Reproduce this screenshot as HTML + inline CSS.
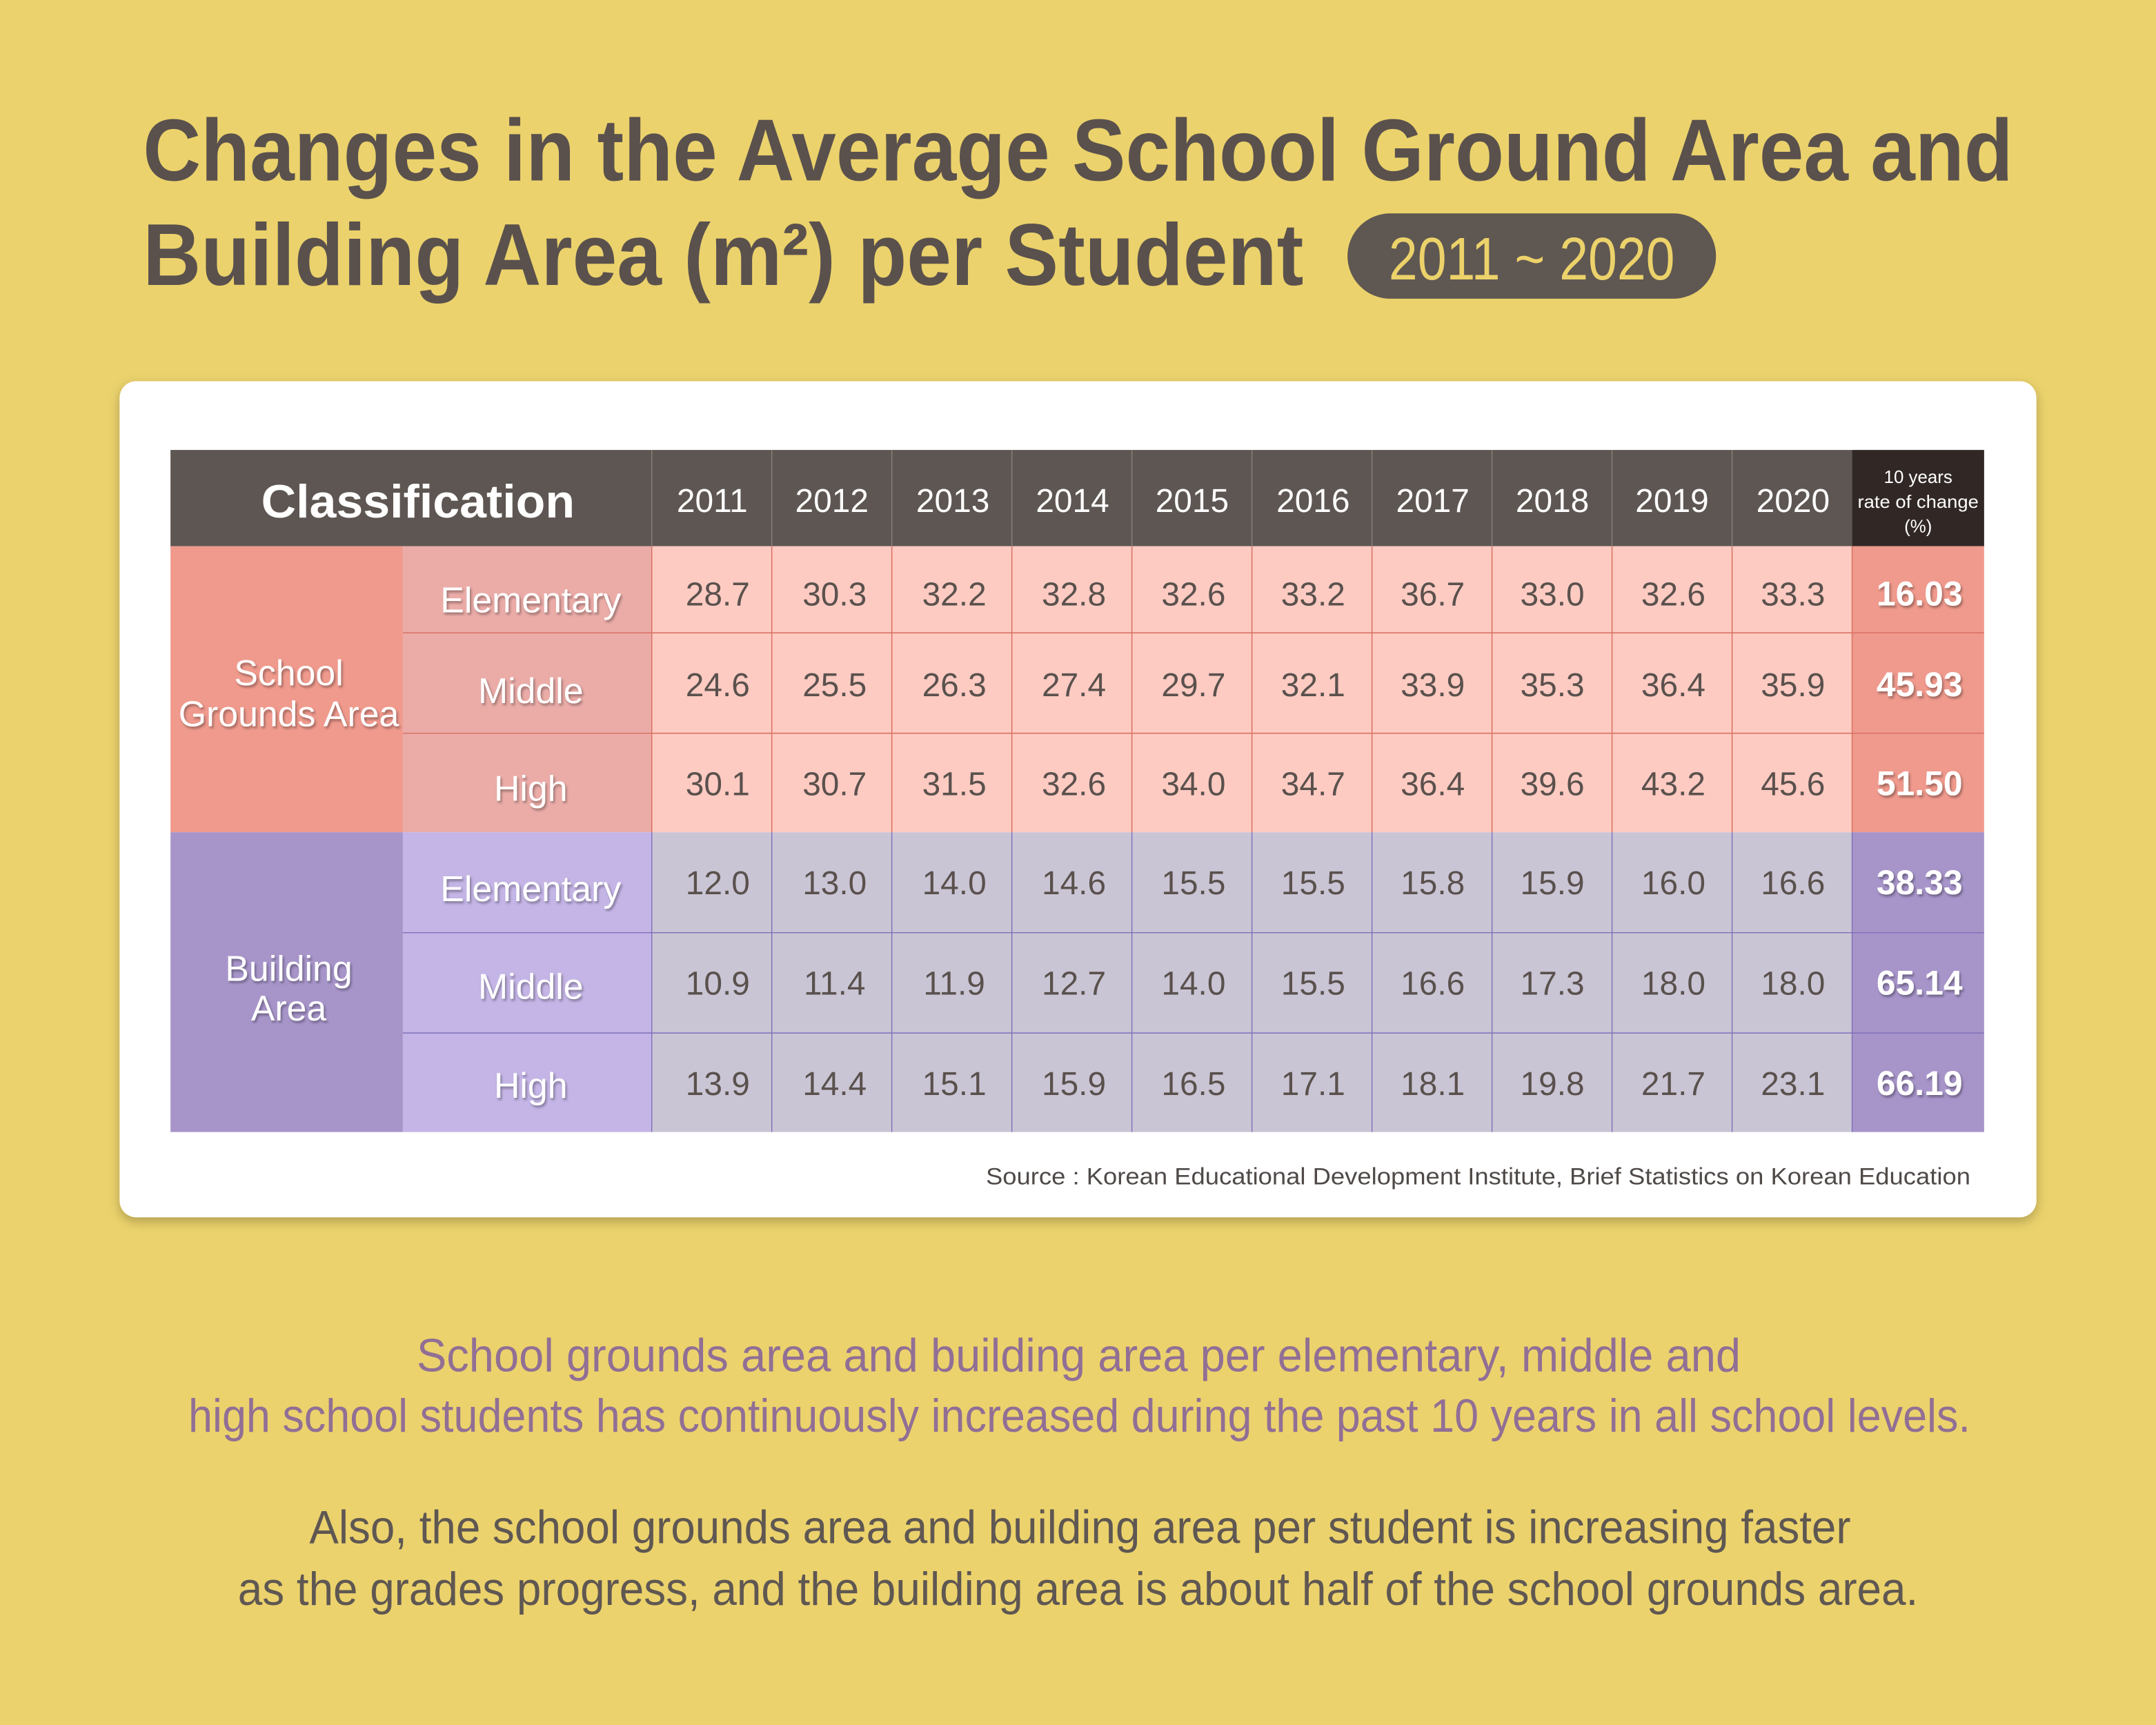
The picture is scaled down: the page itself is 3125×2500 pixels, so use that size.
<!DOCTYPE html>
<html><head><meta charset="utf-8"><style>
html,body{margin:0;padding:0;background:#ebd26c;}
svg{display:block}
</style></head><body>
<svg width="3125" height="2500" viewBox="0 0 1568 1254" xmlns="http://www.w3.org/2000/svg" font-family="'Liberation Sans Narrow','Liberation Sans',sans-serif">
<defs>
<filter id="sh" x="-5%" y="-5%" width="110%" height="115%"><feDropShadow dx="0" dy="3" stdDeviation="4" flood-color="#000" flood-opacity="0.25"/></filter>
<filter id="ts" x="-10%" y="-20%" width="120%" height="150%"><feDropShadow dx="1" dy="1.5" stdDeviation="1" flood-color="#000" flood-opacity="0.35"/></filter>
</defs>
<rect width="1568" height="1254" fill="#ebd26c"/>
<g fill="#5a514d" font-family="'Liberation Sans',sans-serif" font-weight="bold" font-size="64">
<text x="104" y="131" textLength="1360" lengthAdjust="spacingAndGlyphs">Changes in the Average School Ground Area and</text>
<text x="104" y="207" textLength="844" lengthAdjust="spacingAndGlyphs">Building Area (m²) per Student</text>
</g>
<rect x="980" y="155" width="268" height="62" rx="31" fill="#5f5752"/>
<text x="1010" y="203" font-size="44" fill="#ecd26a" textLength="208" lengthAdjust="spacingAndGlyphs">2011 ~ 2020</text>
<rect x="87" y="277" width="1394" height="608" rx="12" fill="#fff" filter="url(#sh)"/>
<!-- header -->
<rect x="124" y="327" width="1223" height="70" fill="#5e5652"/>
<rect x="1347" y="327" width="96" height="70" fill="#312826"/>
<text x="304" y="376" font-family="'Liberation Sans',sans-serif" font-weight="bold" font-size="34" fill="#fff" text-anchor="middle" textLength="228" lengthAdjust="spacingAndGlyphs">Classification</text>
<g font-family="'Liberation Sans',sans-serif" font-size="24" fill="#fff" text-anchor="middle">
<text x="518" y="372">2011</text><text x="605" y="372">2012</text><text x="693" y="372">2013</text><text x="780" y="372">2014</text><text x="867" y="372">2015</text><text x="955" y="372">2016</text><text x="1042" y="372">2017</text><text x="1129" y="372">2018</text><text x="1216" y="372">2019</text><text x="1304" y="372">2020</text>
</g>
<g font-family="'Liberation Sans',sans-serif" font-size="13" fill="#fff" text-anchor="middle">
<text x="1395" y="351">10 years</text><text x="1395" y="369" textLength="88" lengthAdjust="spacingAndGlyphs">rate of change</text><text x="1395" y="387">(%)</text>
</g>
<g stroke="#8a807b" stroke-width="0.7">
<line x1="474" y1="327" x2="474" y2="397"/><line x1="561.3" y1="327" x2="561.3" y2="397"/><line x1="648.6" y1="327" x2="648.6" y2="397"/><line x1="735.9" y1="327" x2="735.9" y2="397"/><line x1="823.2" y1="327" x2="823.2" y2="397"/><line x1="910.5" y1="327" x2="910.5" y2="397"/><line x1="997.8" y1="327" x2="997.8" y2="397"/><line x1="1085.1" y1="327" x2="1085.1" y2="397"/><line x1="1172.4" y1="327" x2="1172.4" y2="397"/><line x1="1259.7" y1="327" x2="1259.7" y2="397"/>
</g>
<!-- pink block -->
<rect x="124" y="397" width="169" height="208" fill="#f09a8d"/>
<rect x="293" y="397" width="181" height="208" fill="#ebaca8"/>
<rect x="474" y="397" width="873" height="208" fill="#fecbc2"/>
<rect x="1347" y="397" width="96" height="208" fill="#f09a8d"/>
<!-- purple block -->
<rect x="124" y="605" width="169" height="218" fill="#a795ca"/>
<rect x="293" y="605" width="181" height="218" fill="#c4b5e6"/>
<rect x="474" y="605" width="873" height="218" fill="#cac5d5"/>
<rect x="1347" y="605" width="96" height="218" fill="#a795ca"/>
<g stroke="#d97466" stroke-width="0.8">
<line x1="293" y1="460" x2="1443" y2="460"/><line x1="293" y1="533" x2="1443" y2="533"/>
<line x1="474" y1="397" x2="474" y2="605"/><line x1="561.3" y1="397" x2="561.3" y2="605"/><line x1="648.6" y1="397" x2="648.6" y2="605"/><line x1="735.9" y1="397" x2="735.9" y2="605"/><line x1="823.2" y1="397" x2="823.2" y2="605"/><line x1="910.5" y1="397" x2="910.5" y2="605"/><line x1="997.8" y1="397" x2="997.8" y2="605"/><line x1="1085.1" y1="397" x2="1085.1" y2="605"/><line x1="1172.4" y1="397" x2="1172.4" y2="605"/><line x1="1259.7" y1="397" x2="1259.7" y2="605"/><line x1="1347" y1="397" x2="1347" y2="605"/>
</g>
<g stroke="#7e6fb8" stroke-width="0.7">
<line x1="293" y1="678" x2="1443" y2="678"/><line x1="293" y1="751" x2="1443" y2="751"/>
<line x1="474" y1="605" x2="474" y2="823"/><line x1="561.3" y1="605" x2="561.3" y2="823"/><line x1="648.6" y1="605" x2="648.6" y2="823"/><line x1="735.9" y1="605" x2="735.9" y2="823"/><line x1="823.2" y1="605" x2="823.2" y2="823"/><line x1="910.5" y1="605" x2="910.5" y2="823"/><line x1="997.8" y1="605" x2="997.8" y2="823"/><line x1="1085.1" y1="605" x2="1085.1" y2="823"/><line x1="1172.4" y1="605" x2="1172.4" y2="823"/><line x1="1259.7" y1="605" x2="1259.7" y2="823"/><line x1="1347" y1="605" x2="1347" y2="823"/>
</g>
<!-- labels -->
<g fill="#fff" font-size="26" text-anchor="middle" filter="url(#ts)">
<text x="210" y="498">School</text>
<text x="210" y="528">Grounds Area</text>
<text x="210" y="713">Building</text>
<text x="210" y="742">Area</text>
<text x="386" y="445">Elementary</text>
<text x="386" y="511">Middle</text>
<text x="386" y="582">High</text>
<text x="386" y="655">Elementary</text>
<text x="386" y="726">Middle</text>
<text x="386" y="798">High</text>
</g>
<g fill="#5a514d" font-family="'Liberation Sans',sans-serif" font-size="24" text-anchor="middle">
<text y="440"><tspan x="522">28.7</tspan><tspan x="607">30.3</tspan><tspan x="694">32.2</tspan><tspan x="781">32.8</tspan><tspan x="868">32.6</tspan><tspan x="955">33.2</tspan><tspan x="1042">36.7</tspan><tspan x="1129">33.0</tspan><tspan x="1217">32.6</tspan><tspan x="1304">33.3</tspan></text>
<text y="506"><tspan x="522">24.6</tspan><tspan x="607">25.5</tspan><tspan x="694">26.3</tspan><tspan x="781">27.4</tspan><tspan x="868">29.7</tspan><tspan x="955">32.1</tspan><tspan x="1042">33.9</tspan><tspan x="1129">35.3</tspan><tspan x="1217">36.4</tspan><tspan x="1304">35.9</tspan></text>
<text y="578"><tspan x="522">30.1</tspan><tspan x="607">30.7</tspan><tspan x="694">31.5</tspan><tspan x="781">32.6</tspan><tspan x="868">34.0</tspan><tspan x="955">34.7</tspan><tspan x="1042">36.4</tspan><tspan x="1129">39.6</tspan><tspan x="1217">43.2</tspan><tspan x="1304">45.6</tspan></text>
<text y="650"><tspan x="522">12.0</tspan><tspan x="607">13.0</tspan><tspan x="694">14.0</tspan><tspan x="781">14.6</tspan><tspan x="868">15.5</tspan><tspan x="955">15.5</tspan><tspan x="1042">15.8</tspan><tspan x="1129">15.9</tspan><tspan x="1217">16.0</tspan><tspan x="1304">16.6</tspan></text>
<text y="723"><tspan x="522">10.9</tspan><tspan x="607">11.4</tspan><tspan x="694">11.9</tspan><tspan x="781">12.7</tspan><tspan x="868">14.0</tspan><tspan x="955">15.5</tspan><tspan x="1042">16.6</tspan><tspan x="1129">17.3</tspan><tspan x="1217">18.0</tspan><tspan x="1304">18.0</tspan></text>
<text y="796"><tspan x="522">13.9</tspan><tspan x="607">14.4</tspan><tspan x="694">15.1</tspan><tspan x="781">15.9</tspan><tspan x="868">16.5</tspan><tspan x="955">17.1</tspan><tspan x="1042">18.1</tspan><tspan x="1129">19.8</tspan><tspan x="1217">21.7</tspan><tspan x="1304">23.1</tspan></text>
</g>
<g fill="#fff" font-family="'Liberation Sans',sans-serif" font-weight="bold" font-size="25" text-anchor="middle" filter="url(#ts)">
<text x="1396" y="440">16.03</text><text x="1396" y="506">45.93</text><text x="1396" y="578">51.50</text>
<text x="1396" y="650">38.33</text><text x="1396" y="723">65.14</text><text x="1396" y="796">66.19</text>
</g>
<text x="1433" y="861" font-family="'Liberation Sans',sans-serif" font-size="17" fill="#4f4a48" text-anchor="end" textLength="716" lengthAdjust="spacingAndGlyphs">Source : Korean Educational Development Institute, Brief Statistics on Korean Education</text>
<g font-size="34">
<text x="303" y="997" fill="#916f95" textLength="963" lengthAdjust="spacingAndGlyphs">School grounds area and building area per elementary, middle and</text>
<text x="137" y="1041" fill="#916f95" textLength="1296" lengthAdjust="spacingAndGlyphs">high school students has continuously increased during the past 10 years in all school levels.</text>
<text x="225" y="1122" fill="#5f5752" textLength="1121" lengthAdjust="spacingAndGlyphs">Also, the school grounds area and building area per student is increasing faster</text>
<text x="173" y="1167" fill="#5f5752" textLength="1222" lengthAdjust="spacingAndGlyphs">as the grades progress, and the building area is about half of the school grounds area.</text>
</g>
</svg>
</body></html>
